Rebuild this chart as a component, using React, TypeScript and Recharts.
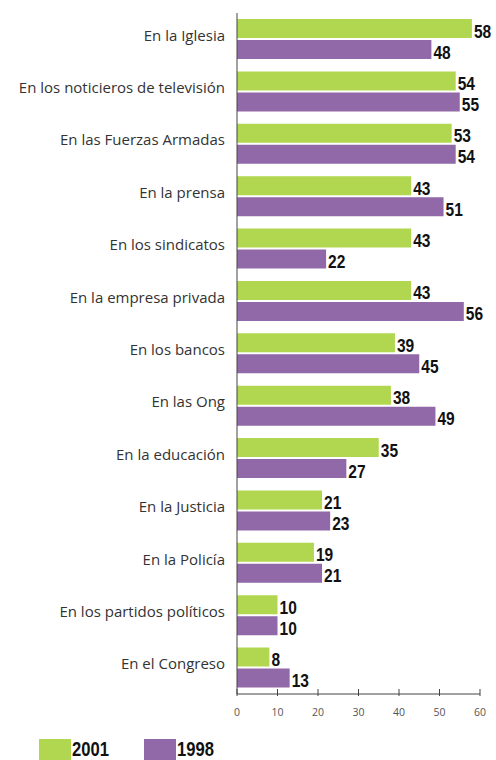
import { BarChart, Bar, XAxis, YAxis, LabelList } from "recharts";

const categories = [
  "En la Iglesia",
  "En los noticieros de televisión",
  "En las Fuerzas Armadas",
  "En la prensa",
  "En los sindicatos",
  "En la empresa privada",
  "En los bancos",
  "En las Ong",
  "En la educación",
  "En la Justicia",
  "En la Policía",
  "En los partidos políticos",
  "En el Congreso",
];
const values2001 = [58, 54, 53, 43, 43, 43, 39, 38, 35, 21, 19, 10, 8];
const values1998 = [48, 55, 54, 51, 22, 56, 45, 49, 27, 23, 21, 10, 13];
const xTicks = [0, 10, 20, 30, 40, 50, 60];

const GREEN = "#b0d74f";
const PURPLE = "#9169a8";
const numFont = "'Liberation Sans', Arial, sans-serif";

const data = categories.map((name, i) => ({
  name,
  y2001: values2001[i],
  y1998: values1998[i],
}));

const CategoryTick = (props: any) => {
  const { x, y, payload } = props;
  return (
    <text
      x={x - 4}
      y={y}
      dy={1.5}
      textAnchor="end"
      fontFamily="'Open Sans', sans-serif"
      fontSize={15}
      fill="#333"
    >
      {payload.value}
    </text>
  );
};

const ValueTick = (props: any) => {
  const { x, y, payload } = props;
  return (
    <g>
      <line x1={x} x2={x} y1={y - 5} y2={y + 2} stroke="#444" strokeWidth={1} />
      <text
        x={x}
        y={y + 22}
        textAnchor="middle"
        fontFamily="'Open Sans', sans-serif"
        fontSize={10.5}
        fill="#555"
      >
        {payload.value}
      </text>
    </g>
  );
};

// narrow bold number next to the bar end
const BarValue = (props: any) => {
  const { x, y, width, height, value } = props;
  const tx = Number(x) + Number(width) + 2;
  const ty = Number(y) + Number(height) - 0.5;
  return (
    <text
      transform={`translate(${tx},${ty}) scale(0.84,1)`}
      fontFamily={numFont}
      fontWeight={700}
      fontSize={18.5}
      fill="#111"
    >
      {value}
    </text>
  );
};

const App = () => {
  return (
    <div
      style={{
        position: "absolute",
        left: 0,
        top: 0,
        width: 496,
        height: 760,
        overflow: "hidden",
        background: "#fff",
      }}
    >
      <BarChart
        width={496}
        height={728}
        data={data}
        layout="vertical"
        margin={{ top: 13, right: 16, bottom: 0, left: 0 }}
        barGap={2}
        barSize={19}
      >
        <XAxis
          type="number"
          domain={[0, 60]}
          ticks={xTicks}
          tick={<ValueTick />}
          tickLine={false}
          tickSize={0}
          tickMargin={0}
          axisLine={{ stroke: "#444" }}
          height={34}
          interval={0}
        />
        <YAxis
          type="category"
          dataKey="name"
          width={237}
          tick={<CategoryTick />}
          tickLine={false}
          axisLine={{ stroke: "#444" }}
          interval={0}
        />
        <Bar dataKey="y2001" fill={GREEN} isAnimationActive={false}>
          <LabelList dataKey="y2001" content={<BarValue />} />
        </Bar>
        <Bar dataKey="y1998" fill={PURPLE} isAnimationActive={false}>
          <LabelList dataKey="y1998" content={<BarValue />} />
        </Bar>
      </BarChart>
      <div
        style={{
          position: "absolute",
          top: 739,
          left: 39,
          height: 21,
          display: "flex",
          alignItems: "center",
          fontFamily: numFont,
          fontWeight: 700,
          fontSize: 20,
          lineHeight: "21px",
          color: "#111",
        }}
      >
        <span style={{ width: 32, height: 21, background: GREEN, display: "inline-block" }} />
        <span style={{ marginLeft: 1, width: 72, display: "inline-block", transform: "scaleX(0.83)", transformOrigin: "left center" }}>2001</span>
        <span style={{ width: 32, height: 21, background: PURPLE, display: "inline-block" }} />
        <span style={{ marginLeft: 1, display: "inline-block", transform: "scaleX(0.83)", transformOrigin: "left center" }}>1998</span>
      </div>
    </div>
  );
};

export default App;
